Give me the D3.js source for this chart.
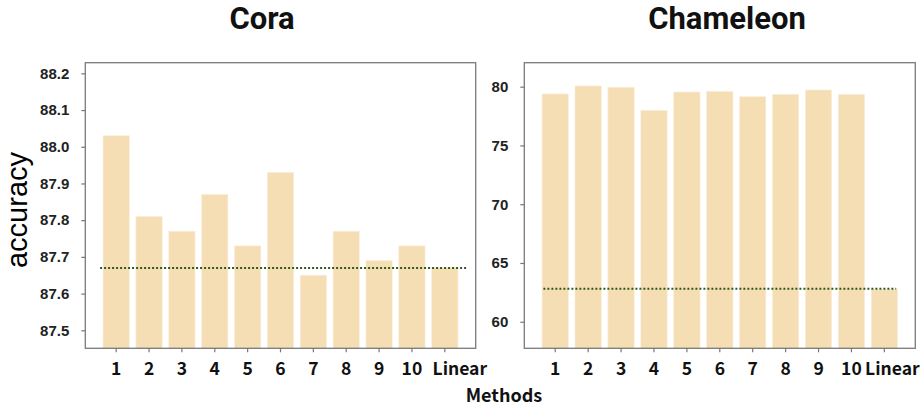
<!DOCTYPE html>
<html>
<head>
<meta charset="utf-8">
<script src="https://cdn.jsdelivr.net/npm/d3@7"></script>
<style>
  body { margin: 0; background: #fff; }
  svg { display: block; }
  .ytick text { font-family: "Liberation Sans", Arial, sans-serif; font-weight: bold; font-size: 15px; fill: #222; }
  .xtick text { font-family: "Noto Sans CJK SC", "Noto Sans", sans-serif; font-weight: bold; font-size: 17.5px; fill: #111; }
  .ytick line, .xtick line { stroke: #777; stroke-width: 1.2; }
  .ytick path, .xtick path { display: none; }
</style>
</head>
<body>
<div id="chart"></div>
<script>
// categories shared by both panels
var methods = ["1", "2", "3", "4", "5", "6", "7", "8", "9", "10", "Linear"];

// Cora accuracy per method
var coraValues = [88.03, 87.81, 87.77, 87.87, 87.73, 87.93, 87.65, 87.77, 87.69, 87.73, 87.67];
var coraBaseline = 87.67;
var coraTicks = [87.5, 87.6, 87.7, 87.8, 87.9, 88.0, 88.1, 88.2];

// Chameleon accuracy per method
var chamValues = [79.38, 80.06, 79.95, 77.99, 79.55, 79.6, 79.15, 79.35, 79.72, 79.35, 62.76];
var chamBaseline = 62.8;
var chamTicks = [60, 65, 70, 75, 80];

var W = 922, H = 408;
var svg = d3.select("#chart").append("svg").attr("width", W).attr("height", H);

var barColor = "#F5DEB3";
var lineColor = "#2f5a1c";

// draws one panel, box = [left, top, right, bottom]
function panel(box, values, baseline, ticks, ydom, tickFmt, lineExt, linearDx, title, titleX) {
  var x = d3.scaleBand()
    .domain(methods)
    .range([box[0], box[2]])
    .paddingInner(0.2)
    .paddingOuter(0.54);
  var y = d3.scaleLinear().domain(ydom).range([box[3], box[1]]);
  var step = x.step(), bw = x.bandwidth();

  var g = svg.append("g");

  g.selectAll("rect.bar")
    .data(values)
    .enter().append("rect")
    .attr("class", "bar")
    .attr("x", function(d, i) { return x(methods[i]); })
    .attr("width", bw)
    .attr("y", function(d) { return y(d); })
    .attr("height", function(d) { return box[3] - y(d); })
    .attr("fill", barColor)
    .attr("stroke", "#fbeedd")
    .attr("stroke-width", 0.6);

  // baseline (Linear) dotted line
  var x0 = x(methods[0]) + bw / 2 + lineExt[0] * step;
  var x1 = x(methods[methods.length - 1]) + bw / 2 + lineExt[1] * step;
  g.append("line")
    .attr("x1", x0).attr("x2", x1)
    .attr("y1", y(baseline)).attr("y2", y(baseline))
    .attr("stroke", lineColor)
    .attr("stroke-width", 2)
    .attr("stroke-dasharray", "2,2");

  // frame
  g.append("rect")
    .attr("x", box[0]).attr("y", box[1])
    .attr("width", box[2] - box[0]).attr("height", box[3] - box[1])
    .attr("fill", "none")
    .attr("stroke", "#7a7a7a")
    .attr("stroke-width", 1.3);

  g.append("g")
    .attr("class", "ytick")
    .attr("transform", "translate(" + box[0] + ",0)")
    .call(d3.axisLeft(y).tickValues(ticks).tickFormat(d3.format(tickFmt)).tickSize(4).tickPadding(12));

  var xa = g.append("g")
    .attr("class", "xtick")
    .attr("transform", "translate(0," + box[3] + ")")
    .call(d3.axisBottom(x).tickSize(4).tickPadding(10));
  // the "Linear" label sits a bit right of its tick in the original
  xa.selectAll(".tick text").filter(function(d) { return d === "Linear"; })
    .attr("dx", linearDx);

  svg.append("text")
    .attr("x", titleX).attr("y", 29)
    .attr("text-anchor", "middle")
    .style("font-family", "Roboto, 'Noto Sans', sans-serif")
    .style("font-weight", "bold")
    .style("font-size", "31px")
    .attr("fill", "#111")
    .text(title);
}

panel([85.3, 62.7, 475.7, 348.3], coraValues, coraBaseline, coraTicks,
      [87.451, 88.229], ".1f", [-0.49, 0.66], 15, "Cora", 262);
panel([524.3, 62.7, 915.3, 348.3], chamValues, chamBaseline, chamTicks,
      [57.74, 82.04], "d", [-0.36, 0.36], 8, "Chameleon", 727);

// y label
svg.append("text")
  .attr("transform", "translate(27,210) rotate(-90)")
  .attr("text-anchor", "middle")
  .style("font-family", "'Liberation Sans', Arial, sans-serif")
  .style("font-size", "29px")
  .attr("fill", "#000")
  .text("accuracy");

// x label
svg.append("text")
  .attr("x", 504).attr("y", 402)
  .attr("text-anchor", "middle")
  .style("font-family", "'Noto Sans CJK SC', 'Noto Sans', sans-serif")
  .style("font-weight", "bold")
  .style("font-size", "18px")
  .attr("fill", "#111")
  .text("Methods");
</script>
</body>
</html>
